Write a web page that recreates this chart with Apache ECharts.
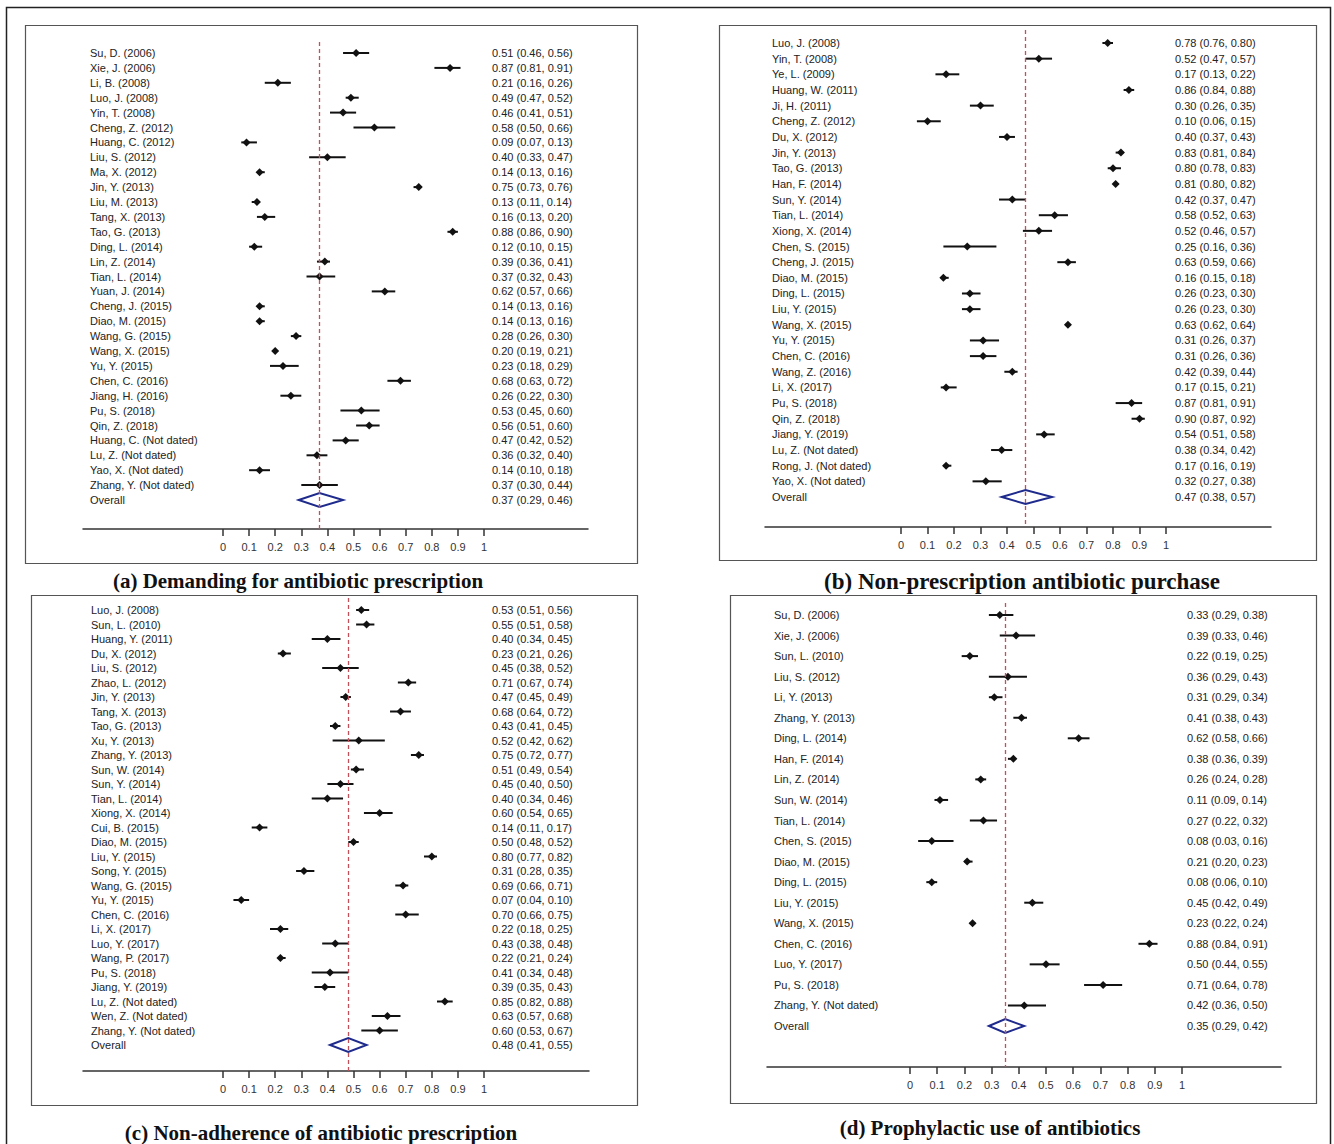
<!DOCTYPE html>
<html><head><meta charset="utf-8">
<script src="https://cdn.jsdelivr.net/npm/echarts@6/dist/echarts.min.js"></script>
<style>html,body{margin:0;padding:0;background:#fff}#c{width:1334px;height:1144px}</style>
</head><body><div id="c"></div>
<script>
// ---------- tick labels ----------
const tickValues = [0, 0.1, 0.2, 0.3, 0.4, 0.5, 0.6, 0.7, 0.8, 0.9, 1];
const tickLabels = ['0', '0.1', '0.2', '0.3', '0.4', '0.5', '0.6', '0.7', '0.8', '0.9', '1'];

// ---------- (a) Demanding for antibiotic prescription ----------
const studiesA = ['Su, D. (2006)', 'Xie, J. (2006)', 'Li, B. (2008)', 'Luo, J. (2008)', 'Yin, T. (2008)', 'Cheng, Z. (2012)', 'Huang, C. (2012)', 'Liu, S. (2012)', 'Ma, X. (2012)', 'Jin, Y. (2013)', 'Liu, M. (2013)', 'Tang, X. (2013)', 'Tao, G. (2013)', 'Ding, L. (2014)', 'Lin, Z. (2014)', 'Tian, L. (2014)', 'Yuan, J. (2014)', 'Cheng, J. (2015)', 'Diao, M. (2015)', 'Wang, G. (2015)', 'Wang, X. (2015)', 'Yu, Y. (2015)', 'Chen, C. (2016)', 'Jiang, H. (2016)', 'Pu, S. (2018)', 'Qin, Z. (2018)', 'Huang, C. (Not dated)', 'Lu, Z. (Not dated)', 'Yao, X. (Not dated)', 'Zhang, Y. (Not dated)'];
const estA  = [0.51, 0.87, 0.21, 0.49, 0.46, 0.58, 0.09, 0.40, 0.14, 0.75, 0.13, 0.16, 0.88, 0.12, 0.39, 0.37, 0.62, 0.14, 0.14, 0.28, 0.20, 0.23, 0.68, 0.26, 0.53, 0.56, 0.47, 0.36, 0.14, 0.37];
const lowA  = [0.46, 0.81, 0.16, 0.47, 0.41, 0.50, 0.07, 0.33, 0.13, 0.73, 0.11, 0.13, 0.86, 0.10, 0.36, 0.32, 0.57, 0.13, 0.13, 0.26, 0.19, 0.18, 0.63, 0.22, 0.45, 0.51, 0.42, 0.32, 0.10, 0.30];
const highA = [0.56, 0.91, 0.26, 0.52, 0.51, 0.66, 0.13, 0.47, 0.16, 0.76, 0.14, 0.20, 0.90, 0.15, 0.41, 0.43, 0.66, 0.16, 0.16, 0.30, 0.21, 0.29, 0.72, 0.30, 0.60, 0.60, 0.52, 0.40, 0.18, 0.44];
const overallA = [0.37, 0.29, 0.46];

// ---------- (b) Non-prescription antibiotic purchase ----------
const studiesB = ['Luo, J. (2008)', 'Yin, T. (2008)', 'Ye, L. (2009)', 'Huang, W. (2011)', 'Ji, H. (2011)', 'Cheng, Z. (2012)', 'Du, X. (2012)', 'Jin, Y. (2013)', 'Tao, G. (2013)', 'Han, F. (2014)', 'Sun, Y. (2014)', 'Tian, L. (2014)', 'Xiong, X. (2014)', 'Chen, S. (2015)', 'Cheng, J. (2015)', 'Diao, M. (2015)', 'Ding, L. (2015)', 'Liu, Y. (2015)', 'Wang, X. (2015)', 'Yu, Y. (2015)', 'Chen, C. (2016)', 'Wang, Z. (2016)', 'Li, X. (2017)', 'Pu, S. (2018)', 'Qin, Z. (2018)', 'Jiang, Y. (2019)', 'Lu, Z. (Not dated)', 'Rong, J. (Not dated)', 'Yao, X. (Not dated)'];
const estB  = [0.78, 0.52, 0.17, 0.86, 0.30, 0.10, 0.40, 0.83, 0.80, 0.81, 0.42, 0.58, 0.52, 0.25, 0.63, 0.16, 0.26, 0.26, 0.63, 0.31, 0.31, 0.42, 0.17, 0.87, 0.90, 0.54, 0.38, 0.17, 0.32];
const lowB  = [0.76, 0.47, 0.13, 0.84, 0.26, 0.06, 0.37, 0.81, 0.78, 0.80, 0.37, 0.52, 0.46, 0.16, 0.59, 0.15, 0.23, 0.23, 0.62, 0.26, 0.26, 0.39, 0.15, 0.81, 0.87, 0.51, 0.34, 0.16, 0.27];
const highB = [0.80, 0.57, 0.22, 0.88, 0.35, 0.15, 0.43, 0.84, 0.83, 0.82, 0.47, 0.63, 0.57, 0.36, 0.66, 0.18, 0.30, 0.30, 0.64, 0.37, 0.36, 0.44, 0.21, 0.91, 0.92, 0.58, 0.42, 0.19, 0.38];
const overallB = [0.47, 0.38, 0.57];

// ---------- (c) Non-adherence of antibiotic prescription ----------
const studiesC = ['Luo, J. (2008)', 'Sun, L. (2010)', 'Huang, Y. (2011)', 'Du, X. (2012)', 'Liu, S. (2012)', 'Zhao, L. (2012)', 'Jin, Y. (2013)', 'Tang, X. (2013)', 'Tao, G. (2013)', 'Xu, Y. (2013)', 'Zhang, Y. (2013)', 'Sun, W. (2014)', 'Sun, Y. (2014)', 'Tian, L. (2014)', 'Xiong, X. (2014)', 'Cui, B. (2015)', 'Diao, M. (2015)', 'Liu, Y. (2015)', 'Song, Y. (2015)', 'Wang, G. (2015)', 'Yu, Y. (2015)', 'Chen, C. (2016)', 'Li, X. (2017)', 'Luo, Y. (2017)', 'Wang, P. (2017)', 'Pu, S. (2018)', 'Jiang, Y. (2019)', 'Lu, Z. (Not dated)', 'Wen, Z. (Not dated)', 'Zhang, Y. (Not dated)'];
const estC  = [0.53, 0.55, 0.40, 0.23, 0.45, 0.71, 0.47, 0.68, 0.43, 0.52, 0.75, 0.51, 0.45, 0.40, 0.60, 0.14, 0.50, 0.80, 0.31, 0.69, 0.07, 0.70, 0.22, 0.43, 0.22, 0.41, 0.39, 0.85, 0.63, 0.60];
const lowC  = [0.51, 0.51, 0.34, 0.21, 0.38, 0.67, 0.45, 0.64, 0.41, 0.42, 0.72, 0.49, 0.40, 0.34, 0.54, 0.11, 0.48, 0.77, 0.28, 0.66, 0.04, 0.66, 0.18, 0.38, 0.21, 0.34, 0.35, 0.82, 0.57, 0.53];
const highC = [0.56, 0.58, 0.45, 0.26, 0.52, 0.74, 0.49, 0.72, 0.45, 0.62, 0.77, 0.54, 0.50, 0.46, 0.65, 0.17, 0.52, 0.82, 0.35, 0.71, 0.10, 0.75, 0.25, 0.48, 0.24, 0.48, 0.43, 0.88, 0.68, 0.67];
const overallC = [0.48, 0.41, 0.55];

// ---------- (d) Prophylactic use of antibiotics ----------
const studiesD = ['Su, D. (2006)', 'Xie, J. (2006)', 'Sun, L. (2010)', 'Liu, S. (2012)', 'Li, Y. (2013)', 'Zhang, Y. (2013)', 'Ding, L. (2014)', 'Han, F. (2014)', 'Lin, Z. (2014)', 'Sun, W. (2014)', 'Tian, L. (2014)', 'Chen, S. (2015)', 'Diao, M. (2015)', 'Ding, L. (2015)', 'Liu, Y. (2015)', 'Wang, X. (2015)', 'Chen, C. (2016)', 'Luo, Y. (2017)', 'Pu, S. (2018)', 'Zhang, Y. (Not dated)'];
const estD  = [0.33, 0.39, 0.22, 0.36, 0.31, 0.41, 0.62, 0.38, 0.26, 0.11, 0.27, 0.08, 0.21, 0.08, 0.45, 0.23, 0.88, 0.50, 0.71, 0.42];
const lowD  = [0.29, 0.33, 0.19, 0.29, 0.29, 0.38, 0.58, 0.36, 0.24, 0.09, 0.22, 0.03, 0.20, 0.06, 0.42, 0.22, 0.84, 0.44, 0.64, 0.36];
const highD = [0.38, 0.46, 0.25, 0.43, 0.34, 0.43, 0.66, 0.39, 0.28, 0.14, 0.32, 0.16, 0.23, 0.10, 0.49, 0.24, 0.91, 0.55, 0.78, 0.50];
const overallD = [0.35, 0.29, 0.42];

const overallLabel = 'Overall';

// ---------- layout (pixels) ----------
const panels = [
  {names: studiesA, est: estA, low: lowA, high: highA, overall: overallA,
   box: [25, 25, 637, 563], left: 83, right: 588, x0: 223, x1: 484, top: 42, axisY: 529, row0: 53, rowLast: 500,
   labelX: 90, valueX: 492, title: '(a) Demanding for antibiotic prescription', titleX: 293, titleY: 579, titleSize: 21},
  {names: studiesB, est: estB, low: lowB, high: highB, overall: overallB,
   box: [719, 25, 1316, 560], left: 765, right: 1271, x0: 901, x1: 1166, top: 30, axisY: 527, row0: 43, rowLast: 497,
   labelX: 772, valueX: 1175, title: '(b) Non-prescription antibiotic purchase', titleX: 1017, titleY: 579, titleSize: 23},
  {names: studiesC, est: estC, low: lowC, high: highC, overall: overallC,
   box: [31, 595, 637, 1105], left: 83, right: 589, x0: 223, x1: 484, top: 598, axisY: 1071, row0: 610, rowLast: 1045,
   labelX: 91, valueX: 492, title: '(c) Non-adherence of antibiotic prescription', titleX: 316, titleY: 1131, titleSize: 21},
  {names: studiesD, est: estD, low: lowD, high: highD, overall: overallD,
   box: [730, 595, 1316, 1103], left: 767, right: 1281, x0: 910, x1: 1182, top: 603, axisY: 1067, row0: 615, rowLast: 1026,
   labelX: 774, valueX: 1187, title: '(d) Prophylactic use of antibiotics', titleX: 985, titleY: 1126, titleSize: 21}
];

const FONT = '"Liberation Sans", Arial, sans-serif';
const fmt = (e, l, h) => e.toFixed(2) + ' (' + l.toFixed(2) + ', ' + h.toFixed(2) + ')';

const grids = [], xAxes = [], yAxes = [], series = [], titles = [], graphics = [];

graphics.push({type: 'rect', silent: true, z: 0,
  shape: {x: 6.5, y: 7.5, width: 1324, height: 1160},
  style: {fill: 'none', stroke: '#222', lineWidth: 1.5}});

panels.forEach((p, k) => {
  const n = p.names.length + 1;
  const step = (p.rowLast - p.row0) / (n - 1);
  const yMin = (p.top - p.row0) / step;
  const yMax = (p.axisY - p.row0) / step;
  const span = p.x1 - p.x0;
  const xMin = (p.left - p.x0) / span;
  const xMax = (p.right - p.x0) / span;
  const rowNames = p.names.concat([overallLabel]);
  const rowValues = p.names.map((_, i) => fmt(p.est[i], p.low[i], p.high[i]))
    .concat([fmt(p.overall[0], p.overall[1], p.overall[2])]);
  const rows = rowNames.map((_, i) => i);

  graphics.push({type: 'rect', silent: true, z: 0,
    shape: {x: p.box[0] + 0.5, y: p.box[1] + 0.5, width: p.box[2] - p.box[0], height: p.box[3] - p.box[1]},
    style: {fill: 'none', stroke: '#555', lineWidth: 1.2}});

  grids.push({left: p.left, top: p.top, width: p.right - p.left, height: p.axisY - p.top, containLabel: false});

  xAxes.push({
    type: 'value', gridIndex: k, min: xMin, max: xMax, position: 'bottom',
    axisLine: {show: true, onZero: false, lineStyle: {color: '#333', width: 1.5}},
    axisTick: {show: true, customValues: tickValues, length: 7, inside: false, lineStyle: {color: '#333', width: 1.5}},
    axisLabel: {show: true, customValues: tickValues, margin: 12, fontSize: 11, fontFamily: FONT, color: '#333',
      formatter: v => { const i = tickValues.findIndex(t => Math.abs(t - v) < 1e-6); return i >= 0 ? tickLabels[i] : ''; }},
    splitLine: {show: false}
  });

  const yBase = {
    type: 'value', gridIndex: k, min: yMin, max: yMax, inverse: true,
    axisLine: {show: false, onZero: false}, axisTick: {show: false}, splitLine: {show: false}
  };
  yAxes.push(Object.assign({}, yBase, {
    position: 'left',
    axisLabel: {show: true, customValues: rows, align: 'left', margin: -(p.labelX - p.left),
      fontSize: 11, fontFamily: FONT, color: '#222',
      formatter: v => rowNames[Math.round(v)] || ''}
  }));
  yAxes.push(Object.assign({}, yBase, {
    position: 'right',
    axisLabel: {show: true, customValues: rows, align: 'left', margin: -(p.right - p.valueX),
      fontSize: 11, fontFamily: FONT, color: '#222',
      formatter: v => rowValues[Math.round(v)] || ''}
  }));

  // study CIs and point estimates
  series.push({
    type: 'custom', xAxisIndex: k, yAxisIndex: 2 * k, z: 3, silent: true,
    data: p.names.map((_, i) => [p.low[i], p.high[i], p.est[i], i]),
    encode: {x: [0, 1, 2], y: 3},
    renderItem: (params, api) => {
      const r = api.value(3);
      const lo = api.coord([api.value(0), r]);
      const hi = api.coord([api.value(1), r]);
      const c = api.coord([api.value(2), r]);
      const s = 4;
      return {type: 'group', children: [
        {type: 'line', shape: {x1: lo[0], y1: lo[1], x2: hi[0], y2: hi[1]}, style: {stroke: '#111', lineWidth: 2}},
        {type: 'polygon', shape: {points: [[c[0] - s, c[1]], [c[0], c[1] - s], [c[0] + s, c[1]], [c[0], c[1] + s]]}, style: {fill: '#111'}}
      ]};
    }
  });

  // overall diamond
  series.push({
    type: 'custom', xAxisIndex: k, yAxisIndex: 2 * k, z: 3, silent: true,
    data: [[p.overall[1], p.overall[2], p.overall[0], n - 1]],
    encode: {x: [0, 1, 2], y: 3},
    renderItem: (params, api) => {
      const r = api.value(3);
      const lo = api.coord([api.value(0), r]);
      const hi = api.coord([api.value(1), r]);
      const c = api.coord([api.value(2), r]);
      const h = 7;
      return {type: 'polygon',
        shape: {points: [[lo[0], lo[1]], [c[0], c[1] - h], [hi[0], hi[1]], [c[0], c[1] + h]]},
        style: {fill: '#fff', stroke: '#1f2b8c', lineWidth: 2}};
    }
  });

  // dashed reference line at overall estimate
  series.push({
    type: 'custom', xAxisIndex: k, yAxisIndex: 2 * k, z: 5, silent: true,
    data: [], renderItem: () => null,
    markLine: {silent: true, symbol: 'none', animation: false, label: {show: false},
      lineStyle: {color: '#c0505a', type: [4, 3], width: 1.3},
      data: [{xAxis: p.overall[0]}]}
  });

  titles.push({
    text: p.title, left: p.titleX, top: p.titleY - p.titleSize * 0.62, textAlign: 'center',
    textStyle: {fontFamily: '"Liberation Serif", "Times New Roman", serif', fontWeight: 'bold', fontSize: p.titleSize, color: '#111'}
  });
});

const chart = echarts.init(document.getElementById('c'), null, {renderer: 'svg', width: 1334, height: 1144});
chart.setOption({
  animation: false,
  backgroundColor: '#fff',
  title: titles,
  grid: grids,
  xAxis: xAxes,
  yAxis: yAxes,
  series: series,
  graphic: graphics
});
</script>
</body></html>
